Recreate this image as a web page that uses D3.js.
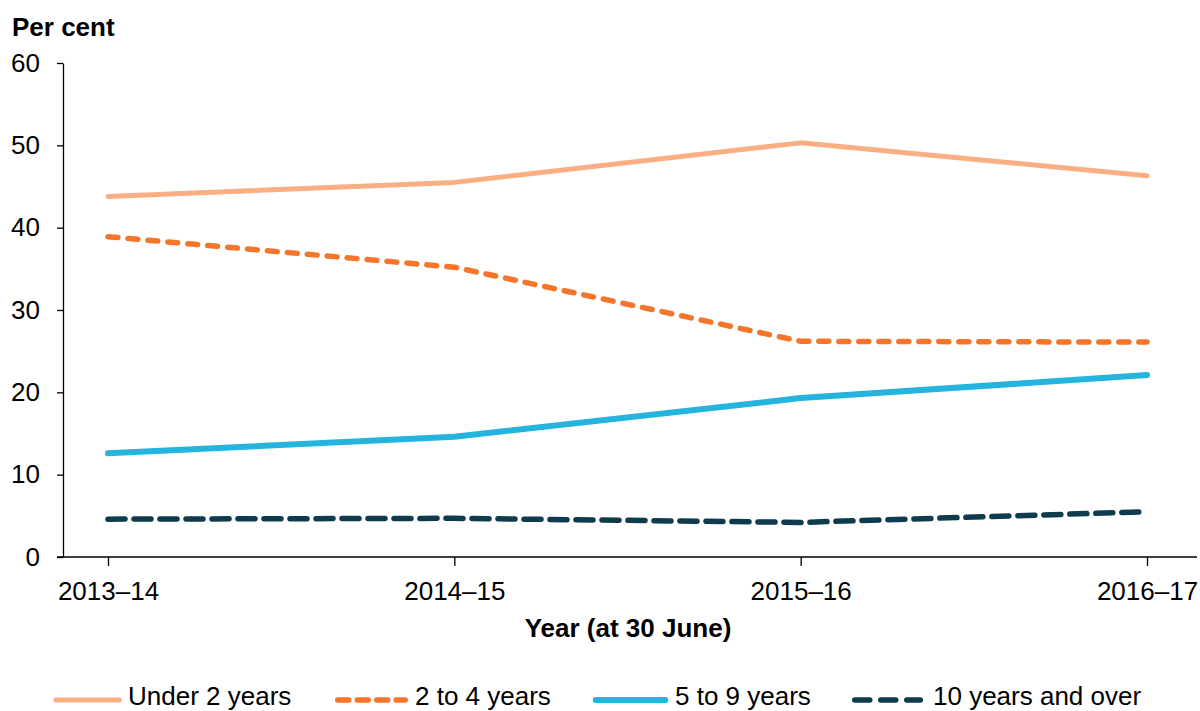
<!DOCTYPE html>
<html>
<head>
<meta charset="utf-8">
<script src="https://cdn.jsdelivr.net/npm/d3@7"></script>
<style>
  body { margin: 0; background: #fff; }
  svg { font-family: Arial, "Liberation Sans", sans-serif; }
</style>
</head>
<body>
<svg id="chart" width="1200" height="711"></svg>
<script>
const years = ['2013–14', '2014–15', '2015–16', '2016–17'];
const under2 = [43.8, 45.5, 50.3, 46.3];
const twoTo4 = [38.9, 35.2, 26.2, 26.1];
const fiveTo9 = [12.6, 14.6, 19.3, 22.1];
const tenPlus = [4.6, 4.7, 4.2, 5.5];
const yTicks = [0, 10, 20, 30, 40, 50, 60];

const series = [
  {name: 'Under 2 years', values: under2, color: '#f9ae83', width: 5, dash: null, legDash: null},
  {name: '2 to 4 years', values: twoTo4, color: '#f5762a', width: 5.5, dash: '10 10', legDash: '11 8.5'},
  {name: '5 to 9 years', values: fiveTo9, color: '#25b4dd', width: 6, dash: null, legDash: null},
  {name: '10 years and over', values: tenPlus, color: '#0e3b4d', width: 5.5, dash: '17 9', legDash: '15 11'}
];

const svg = d3.select('#chart');
const plotL = 63, plotR = 1197, plotT = 63, plotB = 557;
const fs = 26;

const x = d3.scalePoint().domain(years).range([108, 1147]);
const y = d3.scaleLinear().domain([0, 60]).range([plotB, plotT]);

// y axis
svg.append('g')
  .attr('transform', `translate(${plotL},0)`)
  .call(d3.axisLeft(y).tickValues(yTicks).tickSize(6).tickSizeOuter(0).tickPadding(17))
  .call(g => g.select('.domain').attr('stroke', '#000').attr('stroke-width', 1.3))
  .call(g => g.selectAll('.tick line').attr('stroke', '#000').attr('stroke-width', 1.3))
  .call(g => g.selectAll('text').attr('font-size', fs).attr('fill', '#000')
    .attr('font-family', 'Arial, "Liberation Sans", sans-serif'));

// x axis
const xg = svg.append('g').attr('transform', `translate(0,${plotB})`);
xg.append('line').attr('x1', plotL - 6).attr('x2', plotR).attr('stroke', '#000').attr('stroke-width', 1.3);
xg.call(d3.axisBottom(x).tickSize(9).tickSizeOuter(0).tickPadding(16))
  .call(g => g.select('.domain').remove())
  .call(g => g.selectAll('.tick line').attr('stroke', '#000').attr('stroke-width', 1.3))
  .call(g => g.selectAll('text').attr('font-size', fs).attr('fill', '#000')
    .attr('font-family', 'Arial, "Liberation Sans", sans-serif'));

svg.append('text').attr('x', 12).attr('y', 36)
  .attr('font-size', fs).attr('font-weight', 'bold').text('Per cent');

svg.append('text').attr('x', 628).attr('y', 637).attr('text-anchor', 'middle')
  .attr('font-size', fs).attr('font-weight', 'bold').text('Year (at 30 June)');

const line = d3.line().x((d, i) => x(years[i])).y(d => y(d));

series.forEach(s => {
  svg.append('path')
    .attr('d', line(s.values))
    .attr('fill', 'none')
    .attr('stroke', s.color)
    .attr('stroke-width', s.width)
    .attr('stroke-linecap', 'round')
    .attr('stroke-linejoin', 'round')
    .attr('stroke-dasharray', s.dash);
});

// legend
const legStart = [53, 335, 593, 852];
const legEnd = [122, 408, 668, 923];
const legText = [128, 415, 675, 933];
const legY = 700;
series.forEach((s, i) => {
  svg.append('line')
    .attr('x1', legStart[i] + 2.75).attr('x2', legEnd[i] - 2.75)
    .attr('y1', legY).attr('y2', legY)
    .attr('stroke', s.color).attr('stroke-width', s.width)
    .attr('stroke-linecap', 'round')
    .attr('stroke-dasharray', s.legDash);
  svg.append('text').attr('x', legText[i]).attr('y', 705)
    .attr('font-size', fs).text(s.name);
});
</script>
</body>
</html>
